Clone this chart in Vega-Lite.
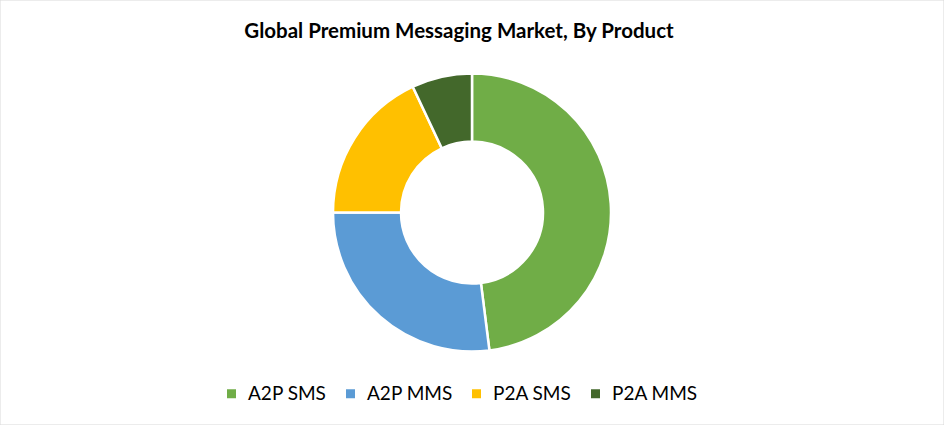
{
  "$schema": "https://vega.github.io/schema/vega-lite/v6.json",
  "width": 944,
  "height": 425,
  "autosize": {"type": "none"},
  "padding": 0,
  "background": "white",
  "config": {"view": {"stroke": null}},
  "title": {
    "text": "Global Premium Messaging Market, By Product",
    "font": "Lato",
    "fontSize": 20.5,
    "fontWeight": "bold",
    "color": "#000000",
    "anchor": "middle",
    "baseline": "alphabetic",
    "offset": -59,
    "dx": -13
  },
  "layer": [
    {
      "data": {"values": [{"frame": "border"}]},
      "mark": {"type": "rect", "fill": null, "stroke": "#D9D9D9", "strokeWidth": 1},
      "encoding": {}
    },
    {
      "data": {
        "values": [
          {"product": "A2P SMS", "share": 48, "idx": 1},
          {"product": "A2P MMS", "share": 27, "idx": 2},
          {"product": "P2A SMS", "share": 18, "idx": 3},
          {"product": "P2A MMS", "share": 7, "idx": 4}
        ]
      },
      "mark": {"type": "arc", "outerRadius": 139, "innerRadius": 71, "stroke": "white", "strokeWidth": 2.5},
      "encoding": {
        "theta": {"field": "share", "type": "quantitative", "stack": true},
        "order": {"field": "idx", "type": "quantitative"},
        "color": {
          "field": "product",
          "type": "nominal",
          "sort": null,
          "scale": {
            "domain": ["A2P SMS", "A2P MMS", "P2A SMS", "P2A MMS"],
            "range": ["#70AD47", "#5B9BD5", "#FFC000", "#43682B"]
          },
          "legend": {
            "orient": "none",
            "legendX": 222,
            "legendY": 384,
            "direction": "horizontal",
            "columns": 4,
            "title": null,
            "symbolType": "square",
            "symbolSize": 81,
            "symbolStrokeWidth": 0,
            "labelFont": "Lato",
            "labelFontSize": 19,
            "labelColor": "#000000",
            "labelOffset": 7,
            "columnPadding": 14
          }
        }
      }
    }
  ]
}
